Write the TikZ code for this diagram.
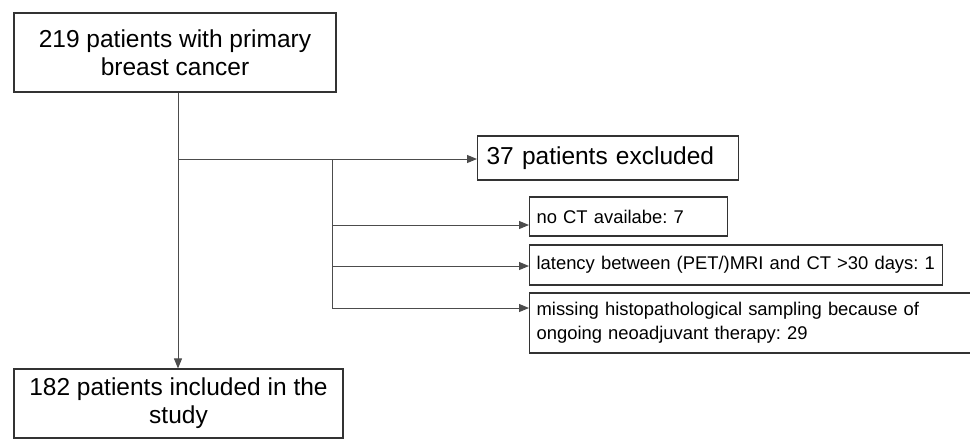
\documentclass[tikz,border=0pt]{standalone}
\usepackage{fontspec}
\setmainfont{Liberation Sans}
\usetikzlibrary{arrows.meta}
\frenchspacing

\begin{document}
\begin{tikzpicture}[x=1pt, y=-1pt,
    bigbox/.style={draw=black!80, line width=1.2pt, inner sep=0pt,
      font=\fontsize{24.5}{28}\selectfont},
    smallbox/.style={draw=black!80, line width=1.2pt, inner xsep=7pt,
      inner ysep=0pt, anchor=west, align=left,
      font=\fontsize{18.4}{24}\selectfont},
    flow/.style={draw=black!70, line width=1pt},
    arr/.style={flow, -{Triangle[length=10pt, width=8pt]}}]

    \useasboundingbox (0,0) rectangle (970,440);

    % Cohort
    \node[bigbox, minimum width=322pt, minimum height=79pt, align=center]
    (total) at (175, 52.5) {219 patients with primary\\breast cancer};
    \node[bigbox, minimum width=329pt, minimum height=69pt, align=center]
    (incl) at (178.5, 403.5) {182 patients included in the\\study};

    % Exclusions
    \node[bigbox, anchor=west, inner xsep=9pt, text width=243pt,
    minimum height=44pt, align=left] (excl) at (477, 158) {37 patients excluded};
    \node[smallbox, text width=184pt, minimum height=39pt]
    (noct) at (529, 216.5) {no CT availabe: 7};
    \node[smallbox, text width=399pt, minimum height=40pt]
    (latency) at (529, 265) {latency between (PET/)MRI and CT >30 days: 1};
    \node[smallbox, text width=432pt, minimum height=60pt]
    (sampling) at (529, 323) {missing histopathological sampling because of\\
      ongoing neoadjuvant therapy: 29};

    % Branch points
    \coordinate (split) at (178, 159);
    \coordinate (b1) at (332, 225);
    \coordinate (b2) at (332, 266);
    \coordinate (b3) at (332, 308);

    % Lines
    \draw[arr] (total.south -| split) -- (split |- incl.north);
    \draw[arr] (split) -- (excl.west |- split);
    \draw[flow] (split -| b3) -- (b3);
    \draw[arr] (b1) -- (noct.west |- b1);
    \draw[arr] (b2) -- (latency.west |- b2);
    \draw[arr] (b3) -- (sampling.west |- b3);

\end{tikzpicture}
\end{document}
